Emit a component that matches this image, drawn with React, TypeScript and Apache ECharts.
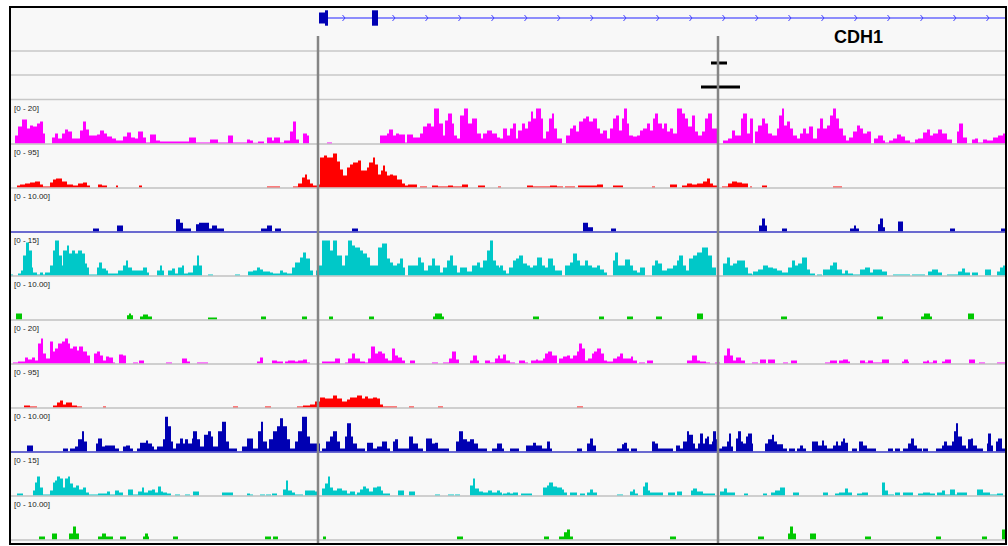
import React, { useEffect, useRef } from "react";
import * as echarts from "echarts";

type Pt = [number, number];

// genomic window, in position units (0 .. WINDOW_END)
const WINDOW_END = 995;

const trackLabels = ["[0 - 20]", "[0 - 95]", "[0 - 10.00]", "[0 - 15]", "[0 - 10.00]", "[0 - 20]", "[0 - 95]", "[0 - 10.00]", "[0 - 15]", "[0 - 10.00]"];
const trackMax = [20, 95, 10, 15, 10, 20, 95, 10, 15, 10];
const trackColors = ["#ff00ff", "#ff0000", "#0000b2", "#00c8c8", "#00c800", "#ff00ff", "#ff0000", "#0000b2", "#00c8c8", "#00c800"];

const geneName = "CDH1";
const geneStart = 309;
const geneEnd = 1200;
// [start, end, coding (1) or UTR (0)]
const geneExons: [number, number, number][] = [[309, 315, 0], [315, 318, 1], [362, 368, 1]];
const featureMarks: [number, number, number][] = [[701, 717, 1.5], [691, 730, 0.5]];
const guidePositions = [308, 708];

// each pair: [start position, value]; the value holds until the next start
const magentaA: Pt[] = [[5,3.8],[8,8.1],[12,11.4],[17,7.1],[20,8.6],[23,8.1],[27,9.5],[30,10.5],[33,4.8],[35,0],[42,2.9],[45,4.8],[48,2.4],[52,4.8],[55,6.7],[58,5.7],[62,2.4],[70,6.2],[73,10.5],[76,6.7],[79,3.8],[87,4.3],[90,6.2],[94,4.8],[97,3.3],[102,2.4],[106,1.4],[113,3.3],[117,5.2],[121,2.9],[125,2.4],[128,5.7],[133,2.9],[136,0.5],[140,4.3],[146,1.4],[150,1],[179,2.9],[186,0.5],[200,1.9],[208,0.5],[218,3.8],[223,0.5],[237,1.9],
[240,1.4],[243,0.3],[248,1],[254,0],[257,2.9],[262,1.4],[264,2.9],[270,0.5],[274,1.4],[280,5.7],[283,10.5],[286,1.9],[289,0],[293,4.8],[297,3.8],[299,0],[317,0.5],[322,0],
[370,3.8],[377,4.8],[379,6.7],[383,3.8],[386,4.8],[389,4.3],[395,0.5],[397,4.3],[403,2.9],[410,4.8],[413,8.1],[417,9.5],[421,8.1],[424,16.7],[429,9.5],[433,3.8],[435,11],[438,14.3],[442,9.5],[444,3.8],[447,2.4],[450,13.3],[454,16.7],[458,9.5],[462,11.9],[467,4.8],[471,2.4],[473,4.8],[477,6.2],[482,4.8],[487,2.9],
[490,2.4],[493,7.1],[497,3.8],[500,7.1],[503,9.5],[506,2.4],[508,6.2],[512,9.5],[515,7.1],[518,10.5],[521,15.2],[523,11.9],[526,16.7],[531,11.9],[533,2.4],[536,5.7],[539,11.9],[542,14.3],[544,7.1],[547,2.4],[552,0],[556,3.8],[560,7.1],[563,8.6],[566,5.7],[569,10.5],[573,11.9],[576,12.9],[579,10.5],[583,11.9],[587,7.1],[590,4.8],[593,6.2],[597,2.4],[600,7.1],[603,11.9],[606,13.3],[609,6.2],[612,11.9],[614,16.7],[617,9.5],[619,3.8],[623,3.3],[627,3.8],[630,6.2],[633,7.1],[637,9.5],[640,6.2],[643,11.9],[645,14.3],[648,9.5],[652,7.1],[654,9.5],[657,5.7],[660,7.1],[663,4.8],[667,16.7],[672,14.3],[675,11.9],[678,8.1],[682,13.3],[685,5.7],[688,3.8],[692,5.7],[695,11.9],[698,14.3],[702,7.1],[707,0],[713,1.4],[718,2.4],[722,6.2],[725,3.8],[731,11.9],[733,14.3],[737,4.8],
[740,11.9],[743,0],[745,5.7],[748,8.6],[752,11.9],[755,9.5],[758,4.8],[762,3.8],[767,7.1],[769,13.3],[772,16.7],[774,8.6],[777,10.5],[780,7.1],[783,3.8],[787,2.4],[790,4.8],[793,7.1],[796,4.8],[799,8.1],[803,2.4],[807,7.1],[810,11.9],[813,7.1],[817,8.6],[820,13.3],[823,16.7],[826,11.9],[829,7.1],[833,3.8],[836,1.4],[839,2.9],[843,5.7],[847,8.6],[850,7.1],[853,4.8],[857,5.7],[861,0],[864,2.4],[868,3.8],[873,1.4],[875,0.5],[879,1.4],[883,2.4],[887,4.3],[891,3.3],[895,1.4],[900,0.5],[905,1.9],[908,2.4],[913,5.2],[917,6.7],[920,3.8],[923,4.8],[928,6.7],[932,4.8],[937,1.9],[942,0],[947,5.7],[949,9.5],[953,2.9],[957,0],[962,1.9],[965,2.4],[968,0.5],[973,1.9],[977,1.4],[983,2.9],[988,3.8],[993,4.8],[995,0]];

const redA: Pt[] = [[7,4.5],[10,6.8],[15,9],[20,11.3],[25,13.6],[30,6.8],[33,2.3],[40,11.3],[43,18],[46,20.4],[52,13.6],[57,6.8],[63,4.5],[68,9],[73,11.3],[77,4.5],[80,0],[88,6.8],[92,4.5],[97,0],[106,4.5],[108,0],[129,4.5],[132,0],
[257,2.3],[270,0],[283,2.3],[288,9],[292,22.6],[295,29.4],[297,18],[300,9],[303,4.5],[307,6.8],[310,67.9],[314,72.4],[317,67.9],[323,76.9],[327,58.8],[330,40.7],[333,27.1],[337,45.2],[340,52],[343,56.6],[348,61],[351,38.5],[357,45.2],[359,56.6],[363,67.9],[365,52],[368,29.4],[371,38.5],[373,49.8],[375,36.2],[377,27.1],[380,29.4],[383,27.1],[387,18],[392,9],[395,4.5],[398,6.8],[407,0],[410,2.3],[417,0],[422,4.5],[428,2.3],[438,4.5],[443,2.3],[452,6.8],[458,0],[468,4.5],[475,0],[488,2.3],[491,0],
[490,2.3],[505,0],[517,4.5],[523,2.3],[540,4.5],[547,2.3],[553,0],[555,2.3],[565,0],[568,4.5],[587,6.8],[593,0],[603,4.5],[613,0],[642,2.3],[645,0],[660,6.8],[667,0],[672,4.5],[677,9],[682,6.8],[687,9],[693,13.6],[697,20.4],[700,9],[703,4.5],[707,0],[712,2.3],[718,9],[722,13.6],[727,11.3],[732,9],[738,0],[740,2.3],[742,0],[752,4.5],[757,0],[823,2.3],[832,0]];

const navyA: Pt[] = [[83,0.7],[89,0],[107,1.4],[113,0],[166,2.9],[170,2.1],[173,0.7],[181,0],[186,1.7],[189,2.1],[199,0.7],[202,1.4],[207,0.7],[214,0],[251,0.7],[257,1.4],[262,0],[265,0.7],[271,0],[342,0.7],[348,0],[573,2.1],[578,1],[583,0],[601,0.7],[606,0],[749,1.4],[752,3.1],[755,1.4],[757,0],[772,0.7],[777,0],[840,0.7],[844,1.4],[846,0.7],[849,0],[868,1.7],[870,3.1],[873,1],[875,0],[888,2.4],[893,0],[940,0.7],[945,0],[991,0.7],[995,0]];

const cyanA: Pt[] = [[1,0.4],[3,0],[8,0.7],[11,1.8],[13,7.1],[16,11.8],[19,8.9],[22,2.9],[23,1.1],[27,0.4],[30,1.1],[33,0.4],[35,1.1],[40,3.6],[43,8.9],[45,12.5],[49,7.1],[52,3.6],[53,8.9],[57,10.7],[59,7.9],[62,8.9],[65,7.9],[68,8.9],[72,7.9],[75,4.3],[77,2.9],[79,0.4],[87,2.9],[89,4.6],[92,2.5],[96,1.8],[98,0.7],[108,1.8],[113,3.6],[116,5.4],[118,2.9],[122,1.8],[133,2.9],[137,1.1],[139,0],[147,1.8],[150,3.6],[152,1.8],[154,0],[158,1.8],[162,2.5],[165,0.7],[168,2.9],[172,3.6],[174,0.7],[178,1.1],[183,3.6],[187,7.1],[189,3.6],[192,0],[198,0.4],[203,0],[225,0.4],[230,0],[238,1.4],
[243,1.8],[247,2.9],[250,2.1],[253,1.4],[260,1.1],[263,0.7],[270,1.8],[273,1.1],[277,0.7],[282,2.9],[285,4.6],[290,6.4],[293,8.2],[296,6.1],[300,1.8],[303,0],[306,1.8],[308,3.6],[312,12.5],[320,8.9],[323,12.5],[327,7.1],[332,3.6],[335,7.1],[338,12.5],[342,10.7],[345,10],[350,8.9],[353,7.9],[357,6.4],[360,3.6],[368,10],[372,11.4],[377,6.1],[380,4.6],[383,3.6],[387,4.3],[390,6.1],[393,2.9],[395,0],[398,3.6],[408,6.4],[411,4.6],[414,1.8],[418,3.6],[422,6.1],[425,3.6],[430,1.1],[433,2.9],[437,5.4],[440,7.1],[443,3.6],[447,1.1],[450,2.9],[457,1.4],[462,3.6],[467,4.6],[470,2.9],[473,5.4],[477,8.9],[480,12.5],[483,5.4],[486,3.6],[489,2.9],
[490,3.6],[493,1.8],[496,0.7],[499,2.9],[503,5.4],[506,6.1],[509,7.1],[513,4.3],[517,3.6],[520,2.9],[523,3.6],[527,6.4],[532,3.6],[535,2.9],[538,6.1],[543,3.6],[545,1.8],[552,0],[555,3.6],[560,4.6],[563,7.9],[567,5.4],[570,3.6],[575,5.4],[578,3.6],[582,2.9],[587,3.6],[590,2.1],[594,1.1],[597,0],[603,5.4],[605,8.2],[608,3.6],[615,5.7],[620,3.6],[623,1.8],[627,1.1],[630,2.9],[635,0],[642,3.6],[645,5.4],[648,4.3],[652,1.8],[657,2.5],[663,3.6],[667,5.4],[669,7.1],[673,3.6],[676,1.8],[679,6.1],[683,7.1],[687,8.2],[692,10],[698,7.1],[702,2.9],[706,0],[713,4.3],[717,6.4],[720,3.6],[723,4.3],[727,5.4],[735,2.9],[738,0.7],[742,0.4],[743,1.4],[748,2.1],[753,3.6],[758,2.9],[763,2.5],[767,1.8],[772,1.1],[778,2.9],[782,5.4],[785,3.6],[788,4.3],[792,6.4],[797,2.1],[800,0.7],[805,0],[807,0.4],[812,0],[813,2.1],[820,3.6],[823,4.6],[827,2.1],[832,0.7],[835,1.8],[838,0.7],[843,0.4],[850,2.1],[855,2.9],[860,1.1],[863,2.1],[872,1.4],[877,0],[883,0.4],[900,0],[902,0.4],[915,0],[918,1.4],[922,2.1],[928,1.1],[932,0],[937,0.4],[948,1.4],[952,2.5],[955,1.1],[960,0],[962,1.1],[968,0],[975,2.1],[981,0],[987,1.4],[990,2.9],[993,3.6],[995,0]];

const greenA: Pt[] = [[6,1.4],[12,0],[117,1],[119,1.4],[121,1],[123,0],[130,0.7],[133,1.2],[138,0.7],[142,0],[198,0.5],[207,0],[251,0.7],[256,0],[292,0.7],[297,0],[319,0.7],[323,0],[359,0.7],[364,0],[423,0.7],[425,1.4],[432,0.7],[434,0],[523,0.7],[529,0],[589,0.7],[594,0],[617,0.7],[623,0],[646,0.7],[652,0],[687,1.4],[693,0],[771,0.7],[777,0],[867,0.7],[873,0],[911,0.7],[914,1.4],[920,0.7],[922,0],[958,1.4],[964,0]];

const magentaB: Pt[] = [[3,0.5],[8,1],[15,2.9],[18,1.9],[22,2.9],[25,1.4],[28,9.5],[31,11.9],[33,4.8],[36,2.4],[40,10.5],[43,5.7],[45,7.1],[48,9.5],[52,10.5],[55,11.9],[58,9.5],[60,7.1],[63,8.1],[67,6.2],[69,8.1],[73,5.7],[77,3.8],[80,0],[84,4.8],[87,5.7],[90,3.8],[93,1.4],[96,3.3],[99,2.9],[103,0.5],[105,0],[109,4.3],[113,3.8],[116,0],[123,0.5],[128,0],[129,1.4],[134,0],[156,0.5],[162,0],[172,2.4],[177,1],[180,0],[187,0.5],[198,0],
[247,1],[250,2.9],[253,0],[262,1.4],[267,1],[273,0],[275,1],[278,1.4],[285,1],[288,1.4],[293,1.9],[297,0.5],[300,0],[312,1],[325,2.4],[330,0],[335,0.5],[338,2.4],[342,4.8],[345,2.4],[350,1],[355,0.5],[358,2.4],[361,8.1],[365,4.8],[368,5.7],[372,4.8],[375,2.4],[378,1.4],[382,7.1],[385,3.8],[388,2.9],[392,1.4],[395,0],[400,1.4],[405,0],[422,0.5],[428,0],[433,0.5],[439,2.4],[442,5.7],[446,1.9],[449,0],[460,1.4],[463,3.8],[467,1.4],[469,0],[475,1.4],[480,0.5],[485,2.4],[488,3.8],
[490,2.4],[493,4.3],[496,1.4],[500,0.5],[505,0],[509,1.4],[515,0.5],[518,0],[521,1.4],[526,1.9],[528,1.4],[533,2.4],[535,4.8],[538,5.7],[542,3.8],[547,0],[549,2.4],[553,3.3],[557,3.8],[560,2.4],[563,3.8],[567,5.7],[569,9.5],[572,7.1],[575,1.4],[578,2.4],[582,4.8],[584,5.7],[587,7.1],[591,4.8],[594,1.4],[597,1],[603,2.4],[607,3.3],[610,4.8],[613,2.4],[621,3.3],[623,1.4],[627,0],[629,0.5],[635,0],[637,1.4],[643,0],[677,1.4],[682,3.8],[687,1.4],[690,1],[696,0.5],[700,0],[705,0.5],[710,0],[714,3.8],[717,7.1],[720,3.8],[723,1.4],[726,2.9],[731,1.4],[735,0],
[742,0.5],[748,0],[750,1.9],[756,0],[758,1.9],[765,0],[773,0.5],[778,0],[781,1.4],[787,0],[815,0.5],[820,1.4],[827,0],[829,1.4],[833,1.9],[838,1],[840,0],[850,1.4],[855,0.5],[858,1.4],[863,0.5],[872,1.9],[879,0],[892,1],[894,1.9],[898,1],[899,0],[913,1],[917,1.4],[919,0.5],[923,1.4],[927,0],[932,1],[935,1.9],[941,0],[959,1.9],[965,0],[969,0.5],[975,0],[987,0.5],[995,0]];

const redB: Pt[] = [[14,4.5],[20,2.3],[27,0],[43,4.5],[47,11.3],[50,15.8],[53,6.8],[56,11.3],[62,4.5],[67,2.3],[72,0],[93,2.3],[96,0],[223,2.3],[228,0],[255,2.3],[261,0],[287,2.3],[293,4.5],[300,6.8],[305,13.6],[310,22.6],[315,20.4],[323,27.1],[327,20.4],[332,13.6],[337,18],[340,22.6],[347,27.1],[352,20.4],[355,24.9],[358,20.4],[363,22.6],[367,20.4],[370,6.8],[373,2.3],[387,0],[399,2.3],[404,0],[428,2.3],[433,0],[567,2.3],[573,0]];

const navyB: Pt[] = [[17,1.4],[23,0],[53,0.7],[58,0],[60,0.7],[65,1.2],[68,2.9],[72,4.8],[74,2.4],[77,0],[86,1.9],[88,3.1],[92,1.2],[95,1.4],[105,0.7],[109,0],[113,1.2],[116,1.4],[120,0.7],[123,0],[127,0.7],[130,2.1],[136,2.6],[138,1.9],[142,1.2],[144,0.5],[147,1.2],[153,2.9],[155,8.3],[158,6],[161,2.4],[163,0.7],[166,1.9],[170,3.1],[173,1.9],[175,2.9],[178,1.9],[182,3.1],[183,4.8],[187,2.9],[190,1.2],[194,4],[198,4.8],[201,3.6],[203,1.2],[208,4.8],[212,7.1],[216,2.4],[219,0.7],[227,0],[232,1.2],[237,3.1],
[240,3.1],[243,0.7],[248,4.8],[251,7.1],[253,2.4],[257,0.7],[259,2.9],[263,4.8],[267,6],[270,7.9],[273,6],[277,2.9],[280,0.7],[285,2.4],[288,4.8],[292,8.3],[297,3.6],[300,1.9],[310,0],[312,0.7],[316,2.4],[320,3.6],[323,4.8],[327,2.4],[330,0.7],[335,3.6],[337,6.7],[341,3.6],[343,1.9],[347,0.7],[355,0],[357,2.1],[363,0.7],[367,1.2],[372,2.4],[377,0.7],[380,0],[383,2.4],[385,2.9],[388,0.7],[399,3.6],[403,1.9],[408,0.7],[413,0],[416,3.1],[422,1.9],[425,2.1],[428,0.7],[439,0],[446,2.4],[449,4.8],[453,2.9],[457,2.4],[460,2.9],[464,1.9],[468,0.7],[477,0],[482,0.7],[487,1.9],
[492,0.7],[494,0],[500,0.7],[509,0],[516,1.4],[523,2.1],[526,1.4],[532,0.7],[537,2.4],[540,0.7],[542,0],[567,0.7],[572,0],[577,1.9],[580,3.1],[583,1.4],[586,0],[607,0.7],[612,1.7],[614,2.1],[617,0.7],[619,0],[621,0.7],[627,0],[642,2.4],[645,1.9],[648,0.7],[663,0],[666,1.4],[670,0.7],[673,2.4],[677,4.8],[679,4],[683,1.9],[685,0.7],[688,1.9],[690,4.3],[693,1.9],[695,3.1],[697,3.6],[699,1.7],[702,2.4],[703,4.8],[706,2.9],[709,0.7],[712,1.2],[717,2.4],[719,4.3],[721,1.2],[723,0],[726,3.1],[728,4.8],[731,2.4],[733,1.9],[736,3.6],[738,4.3],
[742,1.9],[743,0],[755,1.9],[758,2.9],[762,4],[764,2.4],[767,1.7],[773,0.7],[777,0],[779,0.7],[785,0],[787,0.7],[790,1.4],[793,0.7],[796,0],[802,2.4],[808,1.4],[812,2.6],[814,1.4],[817,0.7],[823,1.4],[826,2.4],[828,1.4],[831,2.4],[833,3.1],[835,2.1],[838,0],[842,0.7],[847,0],[849,2.4],[853,1.4],[857,0.7],[866,0],[878,0.7],[883,0],[885,0.7],[890,0],[893,0.7],[898,1.9],[901,3.1],[904,1.4],[907,0.7],[912,0],[913,0.7],[918,0],[926,0.7],[932,1.4],[934,2.4],[937,1.4],[942,2.4],[944,4.8],[946,6.7],[948,3.6],[952,1.4],[956,0.7],[958,2.9],[961,3.1],[963,1.4],[967,0.7],[973,0],[977,1.9],[978,4.3],[981,1.4],[983,0],[986,2.4],[988,3.1],[992,0.7],[995,0]];

const cyanB: Pt[] = [[7,0.7],[13,0],[23,1.8],[25,4.6],[27,6.8],[30,2.9],[33,0.4],[40,1.8],[43,4.6],[45,5.4],[47,6.8],[50,6.1],[53,2.9],[55,6.1],[58,6.8],[60,4.3],[63,2.9],[66,3.6],[69,2.1],[73,2.9],[76,1.1],[79,0.4],[88,0.7],[97,1.4],[100,0.4],[105,1.8],[109,1.1],[113,0],[118,2.1],[123,0.4],[128,1.4],[132,2.9],[134,1.1],[138,1.8],[142,2.1],[145,1.1],[148,3.2],[151,1.4],[153,1.1],[157,0.7],[161,0],[165,0.4],[170,0],[175,0.4],[180,0],[183,1.4],[189,0],[212,1.1],[223,0],[237,0.7],
[240,0.4],[243,0],[250,0.4],[255,0],[256,0.4],[261,0],[262,0.7],[267,0],[273,2.1],[276,5.4],[278,1.8],[282,1.1],[285,0.4],[293,0],[295,1.8],[305,1.4],[308,0],[312,2.5],[315,4.3],[318,6.8],[320,2.9],[323,1.8],[327,2.5],[332,1.8],[337,0.7],[340,1.4],[345,0.4],[347,1.1],[350,2.1],[353,3.2],[356,2.5],[359,1.4],[363,2.9],[367,3.2],[371,1.8],[373,0.7],[380,0],[388,1.8],[394,0],[399,1.4],[405,0],[425,0.4],[430,0],[438,0.4],[444,0],[445,0.4],[450,0],[460,3.6],[463,6.1],[465,2.5],[469,1.4],[473,1.1],[478,1.8],[482,1.1],[487,1.8],[490,1.1],
[492,0.4],[493,0.7],[497,1.1],[500,0.7],[503,1.1],[508,0],[511,0.7],[522,0],[533,2.9],[537,3.6],[539,4.6],[543,3.2],[547,2.9],[552,2.1],[554,1.1],[557,0],[560,1.1],[567,0],[570,0.7],[575,0],[577,1.1],[580,2.1],[583,1.1],[587,0],[607,0.4],[613,0],[620,1.4],[623,2.1],[625,0.7],[628,0],[633,3.2],[635,4.6],[638,1.8],[640,1.1],[653,0],[658,1.1],[665,0],[667,1.4],[672,0],[681,1.8],[683,2.5],[687,1.4],[693,0.7],[705,0],[710,1.4],[714,2.5],[717,1.1],[725,0],[734,0.7],[738,0],
[753,0.7],[757,0],[761,1.1],[765,1.8],[770,2.9],[775,0],[783,1.1],[789,0],[813,1.1],[818,0],[825,0.7],[829,1.1],[835,2.5],[838,1.1],[842,0],[847,0.7],[852,1.1],[858,0],[872,4.6],[875,1.8],[878,0.4],[884,0],[885,1.1],[890,0],[893,1.1],[903,0],[908,0.7],[913,1.1],[920,0.7],[925,0],[927,1.1],[932,1.8],[935,0.4],[940,2.1],[945,0.4],[947,1.1],[957,0],[967,2.1],[973,1.1],[980,0.4],[987,0.7],[993,0]];

const greenB: Pt[] = [[29,0.7],[35,0],[42,1.4],[47,0],[59,1.4],[63,3.1],[66,1.4],[69,0],[88,0.7],[92,1.4],[96,0.7],[103,0],[110,0.7],[116,0],[133,0.7],[135,1.4],[138,0.7],[139,0],[163,0.7],[168,0],[255,0.7],[261,0],[263,0.7],[268,0],[313,0.7],[316,0],[447,0.7],[453,0],[534,0.7],[539,0],[549,0.7],[554,1.7],[557,2.4],[560,0.7],[563,0],[660,0.7],[666,0],[748,0.7],[754,0],[778,1.4],[780,3.1],[783,1.4],[786,0],[800,1.4],[806,0],[855,0.7],[861,0],[926,0.7],[931,0],[972,0.7],[977,0],[992,2.4],[995,0]];

const tracks: Pt[][] = [magentaA, redA, navyA, cyanA, greenA, magentaB, redB, navyB, cyanB, greenB];

function stepData(pairs: Pt[]): Pt[] {
  const d = pairs.slice().sort((a, b) => a[0] - b[0]);
  if (d[0][0] > 0) d.unshift([0, 0]);
  if (d[d.length - 1][0] < WINDOW_END) d.push([WINDOW_END, 0]);
  return d;
}

const PLOT_LEFT = 10;
const PLOT_WIDTH = 995;
const TRACK_TOP = 99.5;
const TRACK_H = 44;

export default function App() {
  const ref = useRef<HTMLDivElement>(null);
  useEffect(() => {
    const el = ref.current!;
    const chart = echarts.init(el, null, { renderer: "svg" });

    const grids: any[] = tracks.map((_, i) => ({ left: PLOT_LEFT, width: PLOT_WIDTH, top: TRACK_TOP + 2 + TRACK_H * i, height: TRACK_H - 2 }));
    grids.push({ left: PLOT_LEFT, width: PLOT_WIDTH, top: 7, height: 22 });
    grids.push({ left: PLOT_LEFT, width: PLOT_WIDTH, top: 51, height: 48 });

    const navyIdx = new Set([2, 7]);
    const xAxes = grids.map((_, i) => ({
      type: "value", gridIndex: i, min: 0, max: WINDOW_END,
      axisLine: { show: i < 10, onZero: false, lineStyle: { color: navyIdx.has(i) ? "#6a6ad0" : "#cfcfcf", width: 2 } },
      axisTick: { show: false }, axisLabel: { show: false }, splitLine: { show: false },
    }));
    const yAxes = grids.map((_, i) => ({
      type: "value", gridIndex: i, min: 0, max: i < 10 ? trackMax[i] : i === 10 ? 1 : 2, show: false,
    }));

    const series: any[] = tracks.map((t, i) => ({
      type: "line", xAxisIndex: i, yAxisIndex: i, data: stepData(t), step: "end", symbol: "none",
      lineStyle: { width: 0 }, areaStyle: { color: trackColors[i], opacity: 1 }, silent: true,
    }));

    // gene: intron line with strand chevrons
    series.push({
      type: "custom", xAxisIndex: 10, yAxisIndex: 10, data: [[geneStart, geneEnd]], silent: true,
      renderItem: (params: any, api: any) => {
        const s = api.coord([api.value(0), 0.5]);
        const e = api.coord([api.value(1), 0.5]);
        const cs = params.coordSys;
        const right = Math.min(e[0], cs.x + cs.width);
        const cy = s[1];
        const children: any[] = [{ type: "line", shape: { x1: s[0], y1: cy, x2: right, y2: cy }, style: { stroke: "#2222ff", lineWidth: 1 } }];
        const ex = geneExons.map((g) => [api.coord([g[0], 0.5])[0], api.coord([g[1], 0.5])[0]]);
        const introns: number[][] = [];
        for (let k = 0; k < ex.length; k++) {
          const a = ex[k][1];
          const b = k + 1 < ex.length ? ex[k + 1][0] : right;
          if (b - a > 8) introns.push([a, b]);
        }
        introns.forEach(([a, b]) => {
          for (let x = a + 15.5; x < b - 4; x += 33) {
            children.push({ type: "polyline", shape: { points: [[x - 1, cy - 3], [x + 1.5, cy], [x - 1, cy + 3]] }, style: { stroke: "#4444ff", lineWidth: 1, fill: "none" } });
          }
        });
        return { type: "group", children };
      },
    });
    // gene: exons (UTR thinner than coding)
    series.push({
      type: "custom", xAxisIndex: 10, yAxisIndex: 10, data: geneExons, silent: true,
      renderItem: (params: any, api: any) => {
        const s = api.coord([api.value(0), 0.5]);
        const e = api.coord([api.value(1), 0.5]);
        const h = api.size([0, api.value(2) ? 0.7 : 0.5])[1];
        return { type: "rect", shape: { x: s[0], y: s[1] - h / 2, width: e[0] - s[0], height: h }, style: { fill: "#0000b4" } };
      },
    });
    // feature marks
    series.push({
      type: "custom", xAxisIndex: 11, yAxisIndex: 11, data: featureMarks, silent: true,
      renderItem: (params: any, api: any) => {
        const s = api.coord([api.value(0), api.value(2)]);
        const e = api.coord([api.value(1), api.value(2)]);
        return { type: "rect", shape: { x: s[0], y: s[1] - 1.5, width: e[0] - s[0], height: 3 }, style: { fill: "#000000" } };
      },
    });

    chart.setOption({ animation: false, backgroundColor: "#ffffff", grid: grids, xAxis: xAxes, yAxis: yAxes, series });

    const guideX = guidePositions.map((p) => chart.convertToPixel({ xAxisIndex: 0 } as any, p) as number);

    const elements: any[] = [];
    elements.push({ type: "rect", z: -10, silent: true, shape: { x: 10, y: 7, width: 996, height: 537 }, style: { fill: "#f8f8f8" } });
    [51, 75, 99.5].forEach((y) => elements.push({ type: "line", z: 1, silent: true, shape: { x1: 10, y1: y, x2: 1006, y2: y }, style: { stroke: "#c8c8c8", lineWidth: 1.5 } }));
    trackLabels.forEach((t, i) => elements.push({ type: "text", z: 10, silent: true, x: 14, y: TRACK_TOP + TRACK_H * i + 8.5, style: { text: t, fontSize: 8, fontFamily: "Liberation Sans", fill: "#222222", verticalAlign: "middle" } }));
    elements.push({ type: "text", z: 10, silent: true, x: 834, y: 37, style: { text: geneName, fontSize: 18, fontWeight: "bold", fontFamily: "Liberation Sans", fill: "#000000", verticalAlign: "middle" } });
    guideX.forEach((x) => elements.push({ type: "line", z: 50, silent: true, shape: { x1: x, y1: 36, x2: x, y2: 545 }, style: { stroke: "#858585", lineWidth: 2.5 } }));
    elements.push({ type: "rect", z: 60, silent: true, shape: { x: 10, y: 7, width: 996, height: 537 }, style: { fill: "none", stroke: "#000000", lineWidth: 2 } });

    chart.setOption({ graphic: { elements } });
    return () => chart.dispose();
  }, []);
  return <div ref={ref} style={{ position: "fixed", left: 0, top: 0, width: 1008, height: 546 }} />;
}
